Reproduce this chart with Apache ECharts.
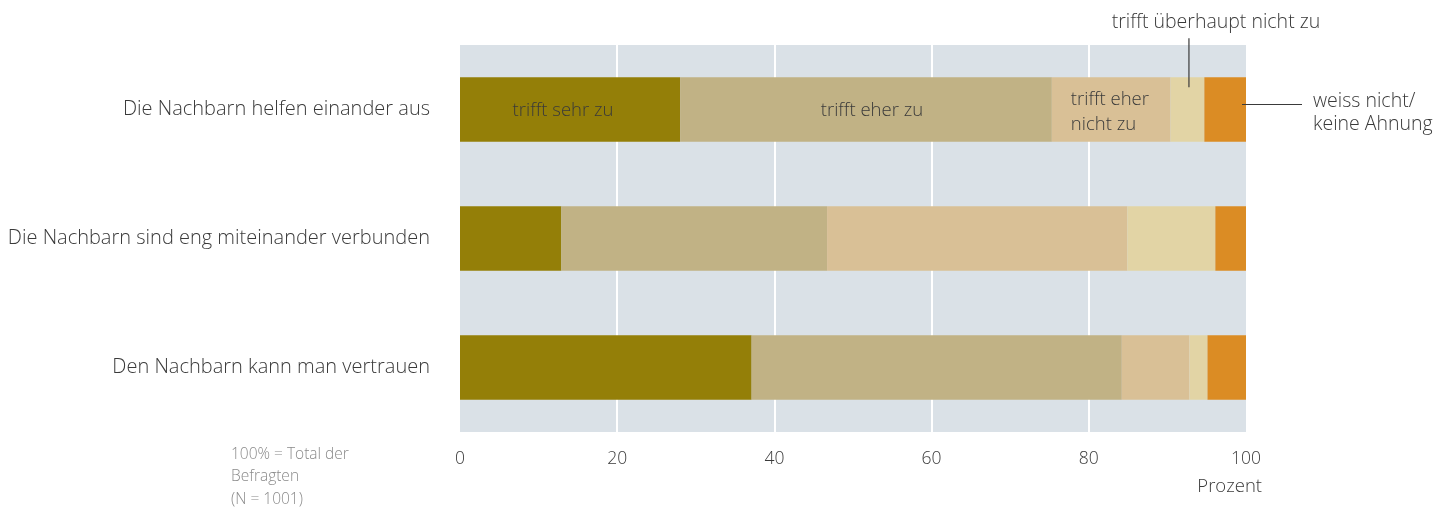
<!DOCTYPE html>
<html>
<head>
<meta charset="utf-8">
<script src="https://cdn.jsdelivr.net/npm/echarts@6/dist/echarts.min.js"></script>
<style>html,body{margin:0;padding:0;background:#fff;}#c{width:1436px;height:507px;}</style>
</head>
<body>
<div id="c"></div>
<script>
const categories = ['Die Nachbarn helfen einander aus', 'Die Nachbarn sind eng miteinander verbunden', 'Den Nachbarn kann man vertrauen'];
const seriesNames = ['trifft sehr zu', 'trifft eher zu', 'trifft eher nicht zu', 'trifft überhaupt nicht zu', 'weiss nicht/ keine Ahnung'];
const sehrZu = [28.0, 12.9, 37.1];
const eherZu = [47.3, 33.8, 47.1];
const eherNicht = [15.1, 38.2, 8.6];
const ueberhaupt = [4.3, 11.2, 2.3];
const weissNicht = [5.3, 3.9, 4.9];
const xTicks = [0, 20, 40, 60, 80, 100];
const colors = ['#947f08', '#c1b285', '#d9c096', '#e2d4a5', '#db8c24'];
const noteText = '100% = Total der\nBefragten\n(N = 1001)';
const FONT = "'Open Sans', 'Noto Sans', sans-serif";

const values = [sehrZu, eherZu, eherNicht, ueberhaupt, weissNicht];
const textColor = '#3a3a3a';

const inBarLabels = [
  { show: true, position: 'inside', formatter: 'trifft sehr zu', offset: [-7, 1] },
  { show: true, position: 'inside', formatter: 'trifft eher zu', offset: [6, 1] },
  { show: true, position: 'insideLeft', distance: 19, formatter: 'trifft eher\nnicht zu', lineHeight: 25, offset: [0, 3] },
  null, null
];

const series = values.map((arr, si) => ({
  name: seriesNames[si],
  type: 'bar',
  stack: 'total',
  barCategoryGap: '50%',
  itemStyle: { color: colors[si] },
  emphasis: { disabled: true },
  data: arr.map((v, ci) => {
    const d = { value: v };
    if (ci === 0 && inBarLabels[si]) {
      d.label = Object.assign({ color: textColor, fontSize: 18.5, fontFamily: FONT, fontWeight: 300 }, inBarLabels[si]);
    }
    return d;
  })
}));

const chart = echarts.init(document.getElementById('c'), null, { renderer: 'canvas' });
chart.setOption({
  animation: false,
  backgroundColor: '#ffffff',
  grid: { left: 460, right: 190, top: 45, bottom: 75, show: true, backgroundColor: '#dae1e7', borderWidth: 0, containLabel: false },
  xAxis: {
    type: 'value', min: 0, max: 100, interval: 20,
    axisLine: { show: false }, axisTick: { show: false },
    splitLine: { show: true, showMinLine: false, showMaxLine: false, lineStyle: { color: '#ffffff', width: 2 } },
    axisLabel: { color: textColor, fontSize: 17.5, fontFamily: FONT, fontWeight: 300, margin: 18,
      formatter: v => xTicks.includes(v) ? String(v) : '' },
    name: 'Prozent', nameLocation: 'end', nameGap: 16,
    nameTextStyle: { color: textColor, fontSize: 18.5, fontFamily: FONT, fontWeight: 300, align: 'right', verticalAlign: 'top', padding: [45, 0, 0, 0] }
  },
  yAxis: {
    type: 'category', data: categories, inverse: true,
    axisLine: { show: false }, axisTick: { show: false }, splitLine: { show: false },
    axisLabel: { color: textColor, fontSize: 20, fontFamily: FONT, fontWeight: 300, margin: 30, padding: [6, 0, 0, 0] }
  },
  series: series
});

// annotations tied to data positions
const row1 = chart.convertToPixel({ gridIndex: 0 }, [0, 0]);
const row2 = chart.convertToPixel({ gridIndex: 0 }, [0, 1]);
const band = row2[1] - row1[1];
const barTop = row1[1] - band * 0.25;
const cumBeforeU = sehrZu[0] + eherZu[0] + eherNicht[0];
const uX = chart.convertToPixel({ gridIndex: 0 }, [cumBeforeU + ueberhaupt[0] / 2, 0])[0] + 1.5;
const endX = chart.convertToPixel({ gridIndex: 0 }, [100, 0])[0];
const lineStyle = { stroke: '#3a3a3a', lineWidth: 1.2 };

chart.setOption({
  graphic: [
    { type: 'line', z: 100, shape: { x1: uX, y1: barTop + 10, x2: uX, y2: barTop - 39 }, style: lineStyle, silent: true },
    { type: 'text', z: 100, x: uX + 27, y: barTop - 55, style: { text: seriesNames[3], textAlign: 'center', textVerticalAlign: 'middle', fill: textColor, font: '300 19.5px ' + FONT } },
    { type: 'line', z: 100, shape: { x1: endX - 4, y1: row1[1] - 5, x2: endX + 56, y2: row1[1] - 5 }, style: lineStyle, silent: true },
    { type: 'text', z: 100, x: endX + 67, y: row1[1] + 3, style: { text: 'weiss nicht/\nkeine Ahnung', textAlign: 'left', textVerticalAlign: 'middle', lineHeight: 23, fill: textColor, font: '300 19.5px ' + FONT } },
    { type: 'text', z: 100, x: 231, y: 443, style: { text: noteText, textAlign: 'left', textVerticalAlign: 'top', lineHeight: 22.5, fill: '#8a8a8a', font: '300 15.5px ' + FONT } }
  ]
});
</script>
</body>
</html>
